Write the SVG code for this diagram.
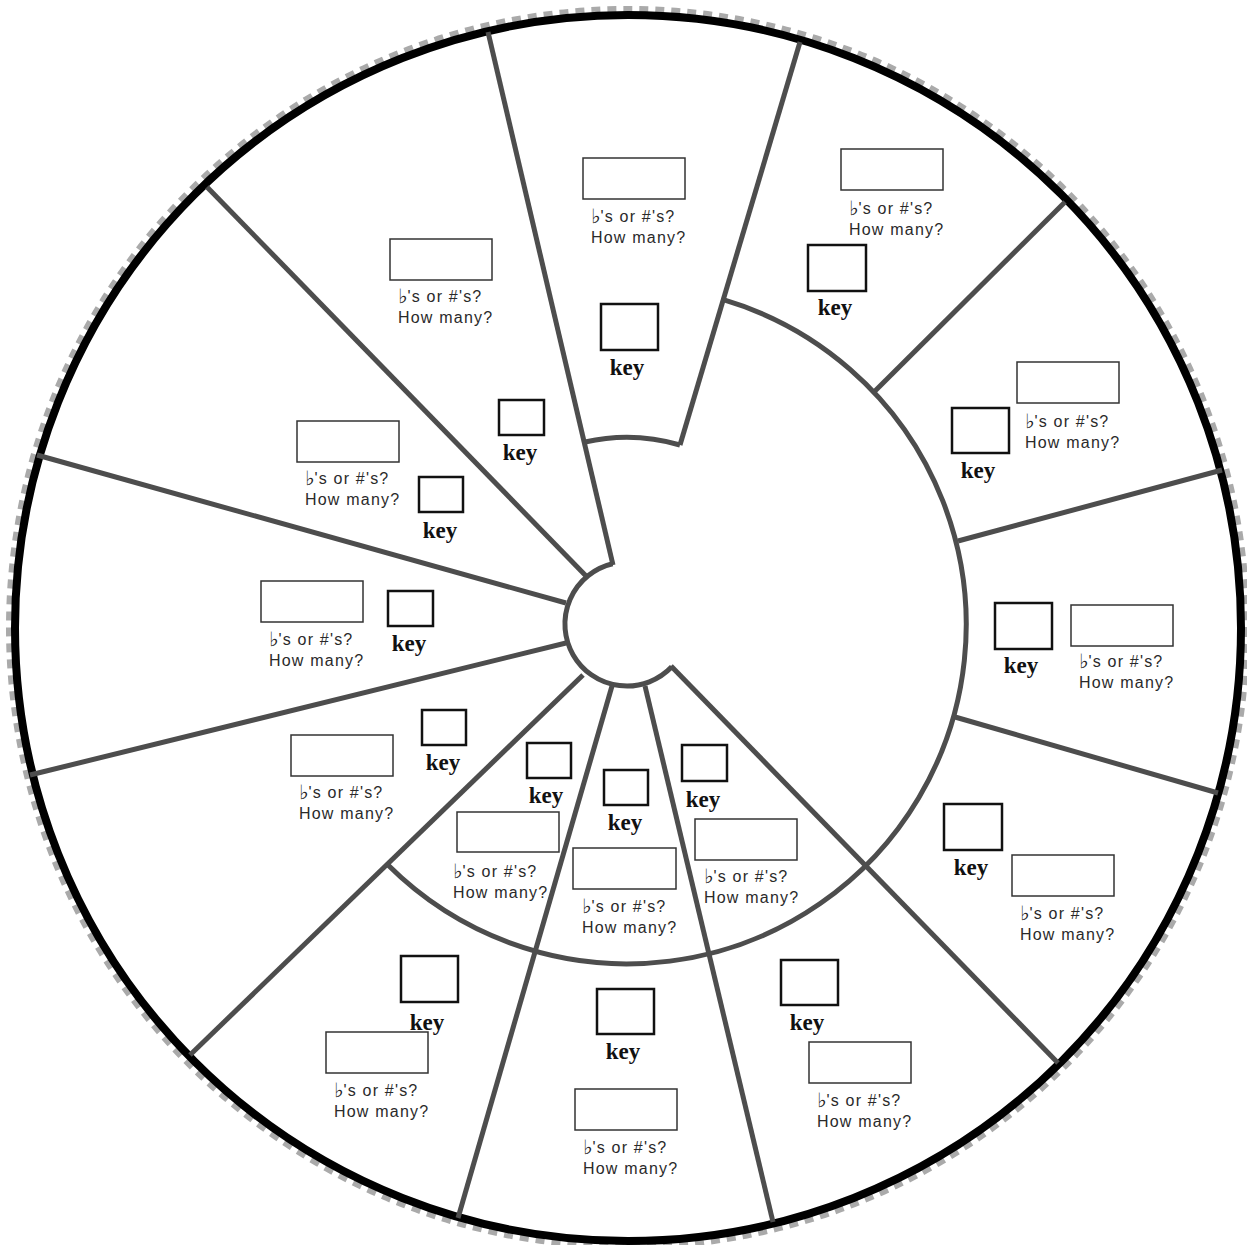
<svg xmlns="http://www.w3.org/2000/svg" width="1247" height="1245" viewBox="0 0 1247 1245">
<style>
.ring{fill:none;stroke:#000;stroke-width:8}
.rough{fill:none;stroke:#aaa;stroke-width:6;stroke-dasharray:9 7}
.ln{fill:none;stroke:#4d4d4d;stroke-width:5;stroke-linecap:butt}
.ans{fill:#fff;stroke:#333;stroke-width:1.5}
.kb{fill:#fff;stroke:#111;stroke-width:2.5}
.q{font-family:"Liberation Sans","DejaVu Sans",Arial,sans-serif;font-size:16px;letter-spacing:1.2px;fill:#2a2a2a}
.fl{font-family:"DejaVu Sans",sans-serif;font-size:20px;letter-spacing:0;fill:#222}
.k{font-family:"Liberation Serif","Times New Roman",serif;font-size:23px;font-weight:bold;fill:#111;text-anchor:middle}
</style>
<rect width="1247" height="1245" fill="#fff"/>
<circle class="rough" cx="628" cy="628" r="619"/>
<circle class="ring" cx="628" cy="628" r="613"/>
<g id="connectors">
<line class="ln" x1="488" y1="32" x2="613" y2="565"/>
<line class="ln" x1="800" y1="42" x2="680" y2="445"/>
<path class="ln" d="M585 442 A188 188 0 0 1 680 445"/>
<path class="ln" d="M723.3 299.7 A339 339 0 1 1 388 865"/>
<path class="ln" d="M612.6 563.7 A62 62 0 1 0 671.8 666.8"/>
<line class="ln" x1="1065" y1="202" x2="875" y2="391"/>
<line class="ln" x1="1222" y1="470" x2="958" y2="541"/>
<line class="ln" x1="1218" y1="793" x2="955" y2="717"/>
<line class="ln" x1="1058" y1="1063" x2="671" y2="666"/>
<line class="ln" x1="773" y1="1222" x2="645" y2="686"/>
<line class="ln" x1="458" y1="1218" x2="612" y2="686"/>
<line class="ln" x1="190" y1="1055" x2="583" y2="675"/>
<line class="ln" x1="30" y1="775" x2="566" y2="643"/>
<line class="ln" x1="37" y1="455" x2="566" y2="603"/>
<line class="ln" x1="207" y1="187" x2="588" y2="578"/>
</g>
<g id="n1"><rect class="ans" x="583" y="158" width="102" height="41"/><text class="q" x="591" y="222"><tspan class="fl" dy="1">♭</tspan><tspan dy="-1">'s or #'s?</tspan></text><text class="q" x="591" y="243">How many?</text><rect class="kb" x="601" y="304" width="57" height="46"/><text class="k" x="627" y="375">key</text></g>
<g id="n2"><rect class="ans" x="841" y="149" width="102" height="41"/><text class="q" x="849" y="214"><tspan class="fl" dy="1">♭</tspan><tspan dy="-1">'s or #'s?</tspan></text><text class="q" x="849" y="235">How many?</text><rect class="kb" x="808" y="245" width="58" height="46"/><text class="k" x="835" y="315">key</text></g>
<g id="n3"><rect class="ans" x="1017" y="362" width="102" height="41"/><text class="q" x="1025" y="427"><tspan class="fl" dy="1">♭</tspan><tspan dy="-1">'s or #'s?</tspan></text><text class="q" x="1025" y="448">How many?</text><rect class="kb" x="952" y="408" width="57" height="45"/><text class="k" x="978" y="478">key</text></g>
<g id="n4"><rect class="ans" x="1071" y="605" width="102" height="41"/><text class="q" x="1079" y="667"><tspan class="fl" dy="1">♭</tspan><tspan dy="-1">'s or #'s?</tspan></text><text class="q" x="1079" y="688">How many?</text><rect class="kb" x="995" y="603" width="57" height="46"/><text class="k" x="1021" y="673">key</text></g>
<g id="n5"><rect class="ans" x="1012" y="855" width="102" height="41"/><text class="q" x="1020" y="919"><tspan class="fl" dy="1">♭</tspan><tspan dy="-1">'s or #'s?</tspan></text><text class="q" x="1020" y="940">How many?</text><rect class="kb" x="944" y="804" width="58" height="46"/><text class="k" x="971" y="875">key</text></g>
<g id="n6"><rect class="ans" x="809" y="1042" width="102" height="41"/><text class="q" x="817" y="1106"><tspan class="fl" dy="1">♭</tspan><tspan dy="-1">'s or #'s?</tspan></text><text class="q" x="817" y="1127">How many?</text><rect class="kb" x="781" y="960" width="57" height="45"/><text class="k" x="807" y="1030">key</text></g>
<g id="n7"><rect class="ans" x="575" y="1089" width="102" height="41"/><text class="q" x="583" y="1153"><tspan class="fl" dy="1">♭</tspan><tspan dy="-1">'s or #'s?</tspan></text><text class="q" x="583" y="1174">How many?</text><rect class="kb" x="597" y="989" width="57" height="45"/><text class="k" x="623" y="1059">key</text></g>
<g id="n8"><rect class="ans" x="326" y="1032" width="102" height="41"/><text class="q" x="334" y="1096"><tspan class="fl" dy="1">♭</tspan><tspan dy="-1">'s or #'s?</tspan></text><text class="q" x="334" y="1117">How many?</text><rect class="kb" x="401" y="956" width="57" height="46"/><text class="k" x="427" y="1030">key</text></g>
<g id="n9"><rect class="ans" x="291" y="735" width="102" height="41"/><text class="q" x="299" y="798"><tspan class="fl" dy="1">♭</tspan><tspan dy="-1">'s or #'s?</tspan></text><text class="q" x="299" y="819">How many?</text><rect class="kb" x="422" y="710" width="44" height="35"/><text class="k" x="443" y="770">key</text></g>
<g id="n10"><rect class="ans" x="261" y="581" width="102" height="41"/><text class="q" x="269" y="645"><tspan class="fl" dy="1">♭</tspan><tspan dy="-1">'s or #'s?</tspan></text><text class="q" x="269" y="666">How many?</text><rect class="kb" x="388" y="591" width="45" height="35"/><text class="k" x="409" y="651">key</text></g>
<g id="n11"><rect class="ans" x="297" y="421" width="102" height="41"/><text class="q" x="305" y="484"><tspan class="fl" dy="1">♭</tspan><tspan dy="-1">'s or #'s?</tspan></text><text class="q" x="305" y="505">How many?</text><rect class="kb" x="419" y="477" width="44" height="35"/><text class="k" x="440" y="538">key</text></g>
<g id="n12"><rect class="ans" x="390" y="239" width="102" height="41"/><text class="q" x="398" y="302"><tspan class="fl" dy="1">♭</tspan><tspan dy="-1">'s or #'s?</tspan></text><text class="q" x="398" y="323">How many?</text><rect class="kb" x="499" y="400" width="45" height="35"/><text class="k" x="520" y="460">key</text></g>
<g id="n13"><rect class="ans" x="457" y="812" width="102" height="40"/><text class="q" x="453" y="877"><tspan class="fl" dy="1">♭</tspan><tspan dy="-1">'s or #'s?</tspan></text><text class="q" x="453" y="898">How many?</text><rect class="kb" x="527" y="743" width="44" height="35"/><text class="k" x="546" y="803">key</text></g>
<g id="n14"><rect class="ans" x="573" y="848" width="103" height="41"/><text class="q" x="582" y="912"><tspan class="fl" dy="1">♭</tspan><tspan dy="-1">'s or #'s?</tspan></text><text class="q" x="582" y="933">How many?</text><rect class="kb" x="604" y="770" width="44" height="35"/><text class="k" x="625" y="830">key</text></g>
<g id="n15"><rect class="ans" x="695" y="819" width="102" height="41"/><text class="q" x="704" y="882"><tspan class="fl" dy="1">♭</tspan><tspan dy="-1">'s or #'s?</tspan></text><text class="q" x="704" y="903">How many?</text><rect class="kb" x="682" y="745" width="45" height="36"/><text class="k" x="703" y="807">key</text></g>
</svg>
